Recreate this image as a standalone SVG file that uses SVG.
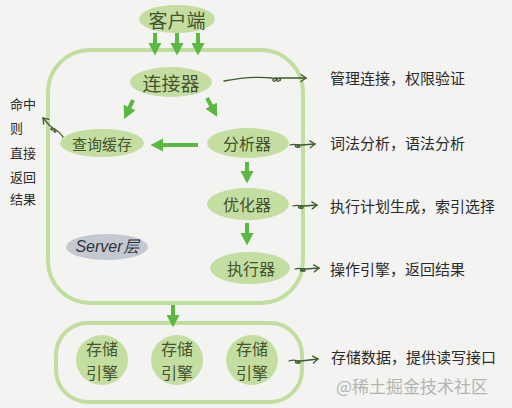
<svg xmlns="http://www.w3.org/2000/svg" xmlns:xlink="http://www.w3.org/1999/xlink" width="512" height="408" viewBox="0 0 512 408">
<style>
.bg{fill:#f3f3f1}
.frame{fill:none;stroke:#c2de9e;stroke-width:4}
.node{fill:#c3dea0}
.ntext{font-family:"Noto Sans CJK SC","Noto Sans",sans-serif;fill:#45532f;text-anchor:middle;dominant-baseline:central}
.arr{stroke:#5bb842;stroke-width:4;fill:none}
.thin{stroke:#3f5a2c;stroke-width:1.3;fill:none;stroke-linecap:round;stroke-linejoin:round}
.note{font-family:"Noto Sans CJK SC","Noto Sans",sans-serif;font-size:15px;fill:#2a2a2a;dominant-baseline:central}
.left{font-family:"Noto Sans CJK SC","Noto Sans",sans-serif;font-size:13px;fill:#2a2a2a;dominant-baseline:central}
</style>
<defs>
<marker id="gh" markerUnits="userSpaceOnUse" markerWidth="14" markerHeight="14" refX="7" refY="7" orient="auto" viewBox="0 0 14 14">
<path d="M1,0.5 L13.5,7 L1,13.5 Z" fill="#5bb842"/>
</marker>
<marker id="th" markerUnits="userSpaceOnUse" markerWidth="10" markerHeight="10" refX="8" refY="5" orient="auto" viewBox="0 0 10 10">
<path d="M3,1.5 L8,5 L3,8.5" fill="none" stroke="#3f5a2c" stroke-width="1.3" stroke-linecap="round"/>
</marker>
</defs>
<rect class="bg" x="0" y="0" width="512" height="408"/>

<g id="server-frame"><rect class="frame" x="48" y="50" width="255" height="253" rx="42" ry="42"/></g>
<g id="storage-frame"><rect class="frame" x="56" y="323" width="246" height="79" rx="32" ry="32"/></g>

<g id="client"><ellipse class="node" cx="177" cy="19" rx="38" ry="14"/><text class="ntext" x="177" y="19" font-size="19">客户端</text></g>
<g id="connector"><ellipse class="node" cx="171" cy="82" rx="41" ry="15"/><text class="ntext" x="171" y="82" font-size="19">连接器</text></g>
<g id="cache"><ellipse class="node" cx="102" cy="143" rx="42" ry="14"/><text class="ntext" x="102" y="143" font-size="15">查询缓存</text></g>
<g id="analyzer"><ellipse class="node" cx="248" cy="143" rx="41" ry="15"/><text class="ntext" x="247" y="143" font-size="16">分析器</text></g>
<g id="optimizer"><ellipse class="node" cx="248" cy="204" rx="41" ry="16"/><text class="ntext" x="247" y="204" font-size="16">优化器</text></g>
<g id="executor"><ellipse class="node" cx="250" cy="268" rx="40" ry="16"/><text class="ntext" x="251" y="268" font-size="16">执行器</text></g>
<g id="server-label"><ellipse cx="107" cy="247" rx="41" ry="13" fill="#c3c8d1"/><text x="107" y="246" font-family="'Liberation Sans',sans-serif" font-style="italic" font-size="16" fill="#2e333c" text-anchor="middle" dominant-baseline="central">Server层</text></g>

<g id="engine1"><ellipse class="node" cx="102" cy="360" rx="26" ry="25"/><text class="ntext" x="102" y="348" font-size="16">存储</text><text class="ntext" x="102" y="372" font-size="16">引擎</text></g>
<g id="engine2"><ellipse class="node" cx="177" cy="360" rx="26" ry="25"/><text class="ntext" x="177" y="348" font-size="16">存储</text><text class="ntext" x="177" y="372" font-size="16">引擎</text></g>
<g id="engine3"><ellipse class="node" cx="252" cy="360" rx="26" ry="25"/><text class="ntext" x="252" y="348" font-size="16">存储</text><text class="ntext" x="252" y="372" font-size="16">引擎</text></g>

<g id="connectors">
<line class="arr" x1="155" y1="33" x2="155" y2="49" marker-end="url(#gh)"/>
<line class="arr" x1="177" y1="33" x2="177" y2="49" marker-end="url(#gh)"/>
<line class="arr" x1="198" y1="33" x2="198" y2="49" marker-end="url(#gh)"/>
<line class="arr" x1="133" y1="100" x2="127" y2="113" marker-end="url(#gh)"/>
<line class="arr" x1="207" y1="98" x2="214" y2="111" marker-end="url(#gh)"/>
<line class="arr" x1="198" y1="145" x2="157" y2="145" marker-end="url(#gh)"/>
<line class="arr" x1="247" y1="162" x2="247" y2="177" marker-end="url(#gh)"/>
<line class="arr" x1="247" y1="223" x2="247" y2="239" marker-end="url(#gh)"/>
<line class="arr" x1="173" y1="305" x2="173" y2="321" marker-end="url(#gh)"/>

<path class="thin" d="M224,81 C245,77 262,77 272,78 c4,0 6,2 3,3 c-3,1 -3,-3 1,-3 c4,0 6,2 3,3 c-3,1 -3,-3 1,-3 L306,78" marker-end="url(#th)"/>
<path class="thin" d="M63,137 C60,133 58,131 56,130 c-2,-1 -3,2 -1,2 c2,0 1,-3 -2,-4 c-2,-1 -3,2 -1,2 c2,0 1,-3 -2,-4 L43,118" marker-end="url(#th)"/>
<path class="thin" d="M290,145 c3,-1 5,-1 7,0 c2,1 1,3 -1,2 c-2,-1 1,-3 3,-2 c2,1 1,3 -1,2 c-2,-1 1,-3 3,-2 L315,144" marker-end="url(#th)"/>
<path class="thin" d="M293,206 c3,-1 5,-1 7,0 c2,1 1,3 -1,2 c-2,-1 1,-3 3,-2 c2,1 1,3 -1,2 c-2,-1 1,-3 3,-2 L317,205" marker-end="url(#th)"/>
<path class="thin" d="M295,269 c3,-1 5,-1 7,0 c2,1 1,3 -1,2 c-2,-1 1,-3 3,-2 c2,1 1,3 -1,2 c-2,-1 1,-3 3,-2 L319,268" marker-end="url(#th)"/>
<path class="thin" d="M289,361 c3,-1 6,-1 8,0 c2,1 1,3 -1,2 c-2,-1 1,-3 3,-2 c2,1 1,3 -1,2 c-2,-1 1,-3 3,-2 L318,359" marker-end="url(#th)"/>
</g>

<g id="notes">
<text class="note" x="330" y="77">管理连接，权限验证</text>
<text class="note" x="330" y="142">词法分析，语法分析</text>
<text class="note" x="330" y="205">执行计划生成，索引选择</text>
<text class="note" x="330" y="268">操作引擎，返回结果</text>
<text class="note" x="331" y="356">存储数据，提供读写接口</text>
<text class="left" x="10" y="103">命中</text>
<text class="left" x="10" y="127">则</text>
<text class="left" x="10" y="152">直接</text>
<text class="left" x="10" y="176">返回</text>
<text class="left" x="10" y="198">结果</text>
<text x="336" y="385" font-family="'Noto Sans CJK SC','Noto Sans',sans-serif" font-size="17" fill="#b3b3b3" dominant-baseline="central">@稀土掘金技术社区</text>
</g>
</svg>
